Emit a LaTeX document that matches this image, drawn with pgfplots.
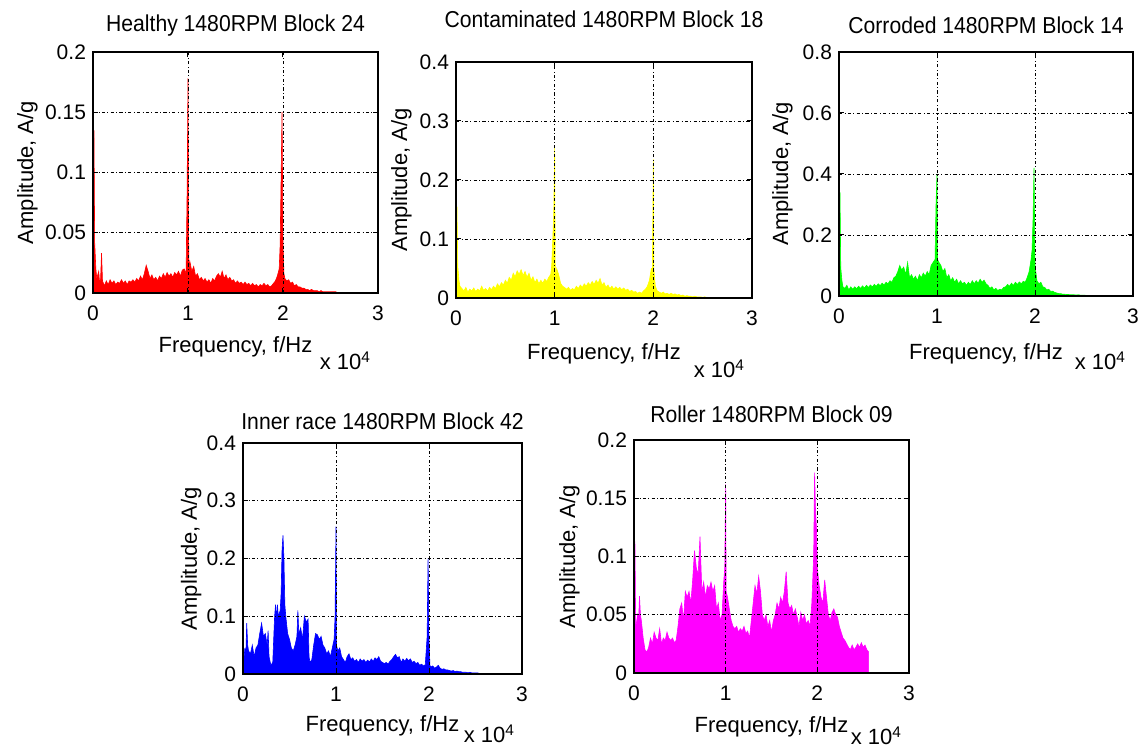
\documentclass[border=0pt]{standalone}
\usepackage{fontspec}
\setmainfont{Liberation Sans}
\newfontfamily\titlefont{Liberation Sans}[FakeStretch=0.92]
\usepackage{pgfplots}
\pgfplotsset{compat=1.18}

\definecolor{mred}{RGB}{255,0,0}
\definecolor{myellow}{RGB}{255,255,0}
\definecolor{mgreen}{RGB}{0,255,0}
\definecolor{mblue}{RGB}{0,0,255}
\definecolor{mmagenta}{RGB}{255,0,255}

\pgfplotsset{
  spec/.style={
    scale only axis, anchor=south west,
    xmin=0, xmax=3, xtick={0,1,2,3}, ymin=0,
    axis on top, grid=major,
    major grid style={black, line width=0.45pt, dash pattern=on 1.6pt off 1.2pt on 0.4pt off 1.2pt},
    axis line style={black, line width=0.6pt},
    tick align=inside, major tick length=2.5pt,
    tick style={black, line width=0.5pt},
    /pgf/number format/assume math mode=true,
    tick label style={font=\fontsize{10.5}{12}\selectfont},
    xticklabel style={yshift=-3pt},
    label style={font=\fontsize{11}{13}\selectfont},
    title style={font=\titlefont\fontsize{11.5}{13}\selectfont, at={(0.5,1)}, anchor=base},
    xlabel={Frequency, f/Hz},
    ylabel={Amplitude, A/g},
    xlabel style={at={(axis description cs:0.5,0)}, anchor=base},
    ylabel style={anchor=base},
  },
  xpow/.style={extra description/.code={
    \node[anchor=base east, font=\fontsize{11}{13}\selectfont, yshift=-#1] at (1,0) {x 10\textsuperscript{4}};}},
}

\begin{document}
\begin{tikzpicture}
\useasboundingbox (0,0) rectangle (570.5pt,374.5pt);

% Healthy
\begin{axis}[spec, at={(46.5pt,228pt)}, width=142.5pt, height=120.5pt,
  ymax=0.2, ytick={0,0.05,0.1,0.15,0.2}, yticklabels={0,0.05,0.1,0.15,0.2},
  title={Healthy 1480RPM Block 24}, title style={yshift=4pt},
  xlabel style={yshift=-30pt},
  ylabel style={at={(axis description cs:-0.21,0.5)}},
  xpow=38.5pt]
\addplot[draw=mred, fill=mred, line width=0.3pt] coordinates {
(0,0)(0,0.04)(0.01,0.135)(0.018,0.04)(0.02,0.038)(0.03,0.02)(0.04,0.012)(0.06,0.018)(0.07,0.008)(0.08,0.012)(0.09,0.033)(0.1,0.01)
(0.12,0.006)(0.14,0.01)(0.16,0.007)(0.18,0.011)(0.2,0.008)(0.22,0.01)(0.24,0.007)(0.26,0.009)(0.28,0.008)(0.30,0.011)
(0.32,0.008)(0.34,0.01)(0.36,0.007)(0.38,0.01)(0.40,0.009)(0.42,0.011)(0.44,0.009)(0.46,0.012)(0.48,0.01)(0.50,0.014)
(0.52,0.011)(0.54,0.016)(0.56,0.023)(0.58,0.018)(0.60,0.012)(0.62,0.015)(0.64,0.011)(0.66,0.013)(0.68,0.01)(0.70,0.014)
(0.72,0.012)(0.74,0.016)(0.76,0.013)(0.78,0.017)(0.80,0.014)(0.82,0.016)(0.84,0.013)(0.86,0.017)(0.88,0.015)(0.90,0.018)
(0.92,0.014)(0.94,0.019)(0.96,0.02)(0.98,0.016)(0.99,0.08)(1.0,0.178)(1.005,0.06)(1.01,0.02)(1.02,0.026)(1.04,0.018)
(1.06,0.022)(1.08,0.014)(1.10,0.016)(1.12,0.011)(1.14,0.013)(1.16,0.01)(1.18,0.012)(1.20,0.009)(1.22,0.011)(1.24,0.008)
(1.26,0.012)(1.28,0.01)(1.30,0.014)(1.32,0.016)(1.34,0.013)(1.36,0.018)(1.38,0.012)(1.40,0.015)(1.42,0.011)(1.44,0.013)
(1.46,0.01)(1.48,0.011)(1.50,0.008)(1.52,0.01)(1.54,0.008)(1.56,0.009)(1.58,0.007)(1.60,0.009)(1.62,0.007)(1.64,0.008)
(1.66,0.006)(1.68,0.008)(1.70,0.006)(1.72,0.007)(1.74,0.005)(1.76,0.007)(1.78,0.006)(1.80,0.008)(1.82,0.006)(1.84,0.007)
(1.86,0.005)(1.88,0.006)(1.90,0.008)(1.92,0.01)(1.94,0.014)(1.96,0.02)(1.97,0.04)(1.98,0.095)(1.99,0.15)(2.0,0.04)
(2.01,0.016)(2.02,0.012)(2.04,0.01)(2.06,0.011)(2.08,0.008)(2.10,0.009)(2.12,0.006)(2.14,0.007)(2.16,0.005)(2.18,0.005)
(2.20,0.004)(2.22,0.004)(2.24,0.003)(2.26,0.003)(2.28,0.002)(2.30,0.003)(2.32,0.002)(2.34,0.002)(2.36,0.002)(2.38,0.001)
(2.40,0.002)(2.42,0.001)(2.44,0.001)(2.46,0.001)(2.48,0.001)(2.50,0.001)(2.52,0.001)(2.54,0.001)(2.56,0.001)(2.56,0)
} \closedcycle;
\end{axis}

% Contaminated
\begin{axis}[spec, at={(228pt,225.5pt)}, width=148pt, height=118pt,
  ymax=0.4, ytick={0,0.1,0.2,0.3,0.4}, yticklabels={0,0.1,0.2,0.3,0.4},
  title={Contaminated 1480RPM Block 18}, title style={yshift=11pt},
  xlabel style={yshift=-31pt},
  ylabel style={at={(axis description cs:-0.1655,0.5)}},
  xpow=40pt]
\addplot[draw=myellow, fill=myellow, line width=0.3pt] coordinates {
(0,0)(0,0.055)(0.01,0.155)(0.018,0.055)(0.02,0.05)(0.03,0.03)(0.04,0.02)(0.06,0.016)(0.08,0.012)(0.10,0.018)(0.12,0.01)(0.14,0.015)
(0.16,0.012)(0.18,0.017)(0.20,0.011)(0.22,0.015)(0.24,0.012)(0.26,0.02)(0.28,0.013)(0.30,0.016)(0.32,0.012)(0.34,0.018)
(0.36,0.014)(0.38,0.02)(0.40,0.016)(0.42,0.024)(0.44,0.019)(0.46,0.026)(0.48,0.022)(0.50,0.03)(0.52,0.025)(0.54,0.035)
(0.56,0.03)(0.58,0.042)(0.60,0.036)(0.62,0.046)(0.64,0.04)(0.66,0.048)(0.68,0.038)(0.70,0.045)(0.72,0.035)(0.74,0.042)
(0.76,0.03)(0.78,0.036)(0.80,0.026)(0.82,0.032)(0.84,0.024)(0.86,0.03)(0.88,0.025)(0.90,0.032)(0.92,0.028)(0.94,0.035)
(0.96,0.04)(0.97,0.055)(0.99,0.14)(1.0,0.255)(1.005,0.06)(1.01,0.03)(1.02,0.05)(1.04,0.04)(1.06,0.025)(1.08,0.02)
(1.10,0.018)(1.12,0.015)(1.14,0.018)(1.16,0.013)(1.18,0.016)(1.20,0.014)(1.22,0.02)(1.24,0.016)(1.26,0.022)(1.28,0.018)
(1.30,0.024)(1.32,0.02)(1.34,0.026)(1.36,0.022)(1.38,0.028)(1.40,0.023)(1.42,0.03)(1.44,0.025)(1.46,0.033)(1.48,0.022)
(1.50,0.026)(1.52,0.018)(1.54,0.022)(1.56,0.016)(1.58,0.02)(1.60,0.015)(1.62,0.019)(1.64,0.015)(1.66,0.018)(1.68,0.014)
(1.70,0.017)(1.72,0.013)(1.74,0.015)(1.76,0.011)(1.78,0.013)(1.80,0.01)(1.82,0.011)(1.84,0.008)(1.86,0.01)(1.88,0.008)
(1.90,0.012)(1.92,0.015)(1.94,0.02)(1.96,0.03)(1.98,0.05)(1.99,0.05)(2.0,0.235)(2.005,0.05)(2.02,0.02)(2.04,0.012)
(2.06,0.01)(2.08,0.008)(2.10,0.01)(2.12,0.007)(2.14,0.008)(2.16,0.006)(2.18,0.008)(2.20,0.006)(2.22,0.007)(2.24,0.005)
(2.26,0.006)(2.28,0.004)(2.30,0.005)(2.32,0.003)(2.34,0.004)(2.36,0.003)(2.38,0.003)(2.40,0.002)(2.42,0.003)(2.44,0.002)
(2.46,0.002)(2.48,0.002)(2.50,0.001)(2.52,0.002)(2.54,0.001)(2.56,0.001)(2.56,0)
} \closedcycle;
\end{axis}

% Corroded
\begin{axis}[spec, at={(419.5pt,226.5pt)}, width=147pt, height=122pt,
  ymax=0.8, ytick={0,0.2,0.4,0.6,0.8}, yticklabels={0,0.2,0.4,0.6,0.8},
  title={Corroded 1480RPM Block 14}, title style={yshift=3pt},
  xlabel style={yshift=-32pt},
  ylabel style={at={(axis description cs:-0.173,0.5)}},
  xpow=37pt]
\addplot[draw=mgreen, fill=mgreen, line width=0.3pt] coordinates {
(0,0)(0,0.09)(0.01,0.34)(0.018,0.09)(0.02,0.085)(0.03,0.05)(0.04,0.03)(0.06,0.025)(0.08,0.035)(0.10,0.02)(0.12,0.03)(0.14,0.022)
(0.16,0.03)(0.18,0.024)(0.20,0.032)(0.22,0.025)(0.24,0.033)(0.26,0.026)(0.28,0.035)(0.30,0.028)(0.32,0.036)(0.34,0.03)
(0.36,0.038)(0.38,0.032)(0.40,0.04)(0.42,0.034)(0.44,0.042)(0.46,0.036)(0.48,0.045)(0.50,0.04)(0.52,0.05)(0.54,0.045)
(0.56,0.06)(0.58,0.065)(0.60,0.08)(0.62,0.1)(0.64,0.085)(0.66,0.095)(0.68,0.07)(0.70,0.11)(0.72,0.06)(0.74,0.07)
(0.76,0.055)(0.78,0.065)(0.80,0.05)(0.82,0.07)(0.84,0.06)(0.86,0.075)(0.88,0.065)(0.90,0.08)(0.92,0.07)(0.94,0.1)
(0.96,0.11)(0.98,0.12)(0.99,0.3)(1.0,0.4)(1.005,0.12)(1.02,0.11)(1.04,0.1)(1.06,0.08)(1.08,0.09)(1.10,0.06)
(1.12,0.07)(1.14,0.05)(1.16,0.06)(1.18,0.045)(1.20,0.055)(1.22,0.04)(1.24,0.05)(1.26,0.04)(1.28,0.045)(1.30,0.035)
(1.32,0.045)(1.34,0.038)(1.36,0.05)(1.38,0.04)(1.40,0.05)(1.42,0.042)(1.44,0.055)(1.46,0.045)(1.48,0.052)(1.50,0.04)
(1.52,0.035)(1.54,0.025)(1.56,0.03)(1.58,0.02)(1.60,0.025)(1.62,0.018)(1.64,0.022)(1.66,0.02)(1.68,0.028)(1.70,0.03)
(1.72,0.038)(1.74,0.032)(1.76,0.042)(1.78,0.035)(1.80,0.045)(1.82,0.038)(1.84,0.046)(1.86,0.04)(1.88,0.048)(1.90,0.045)
(1.92,0.06)(1.94,0.08)(1.96,0.12)(1.97,0.15)(1.98,0.25)(1.99,0.42)(2.0,0.1)(2.02,0.05)(2.04,0.04)(2.06,0.045)
(2.08,0.03)(2.10,0.028)(2.12,0.02)(2.14,0.022)(2.16,0.015)(2.18,0.016)(2.20,0.012)(2.22,0.01)(2.24,0.008)(2.26,0.008)
(2.28,0.006)(2.30,0.006)(2.32,0.005)(2.34,0.005)(2.36,0.004)(2.38,0.004)(2.40,0.004)(2.42,0.003)(2.44,0.004)(2.46,0.003)
(2.48,0.003)(2.50,0.003)(2.52,0.002)(2.54,0.002)(2.56,0.002)(2.56,0)
} \closedcycle;
\end{axis}

% Inner race
\begin{axis}[spec, at={(121.5pt,37.5pt)}, width=139.5pt, height=115.5pt,
  ymax=0.4, ytick={0,0.1,0.2,0.3,0.4}, yticklabels={0,0.1,0.2,0.3,0.4},
  title={Inner race 1480RPM Block 42}, title style={yshift=0.5pt},
  xlabel style={yshift=-29pt},
  ylabel style={at={(axis description cs:-0.165,0.5)}},
  xpow=34.5pt]
\addplot[draw=mblue, fill=mblue, line width=0.3pt] coordinates {
(0,0)(0,0.03)(0.01,0.025)(0.02,0.045)(0.03,0.03)(0.04,0.088)(0.05,0.05)(0.06,0.04)(0.08,0.035)(0.10,0.05)(0.12,0.03)
(0.14,0.045)(0.16,0.05)(0.18,0.07)(0.20,0.088)(0.22,0.065)(0.24,0.07)(0.26,0.05)(0.27,0.075)(0.28,0.03)(0.30,0.015)
(0.32,0.02)(0.33,0.06)(0.34,0.1)(0.35,0.12)(0.36,0.095)(0.37,0.12)(0.38,0.1)(0.40,0.11)(0.41,0.14)(0.42,0.215)
(0.43,0.24)(0.44,0.2)(0.45,0.12)(0.46,0.1)(0.48,0.07)(0.50,0.06)(0.52,0.045)(0.54,0.04)(0.56,0.05)(0.58,0.065)
(0.59,0.11)(0.60,0.07)(0.62,0.08)(0.64,0.06)(0.66,0.1)(0.68,0.09)(0.70,0.095)(0.71,0.03)(0.72,0.02)(0.74,0.025)
(0.76,0.05)(0.78,0.07)(0.80,0.068)(0.82,0.06)(0.84,0.065)(0.86,0.05)(0.88,0.045)(0.90,0.035)(0.92,0.04)(0.94,0.03)
(0.96,0.045)(0.98,0.06)(0.99,0.1)(1.0,0.255)(1.005,0.05)(1.02,0.04)(1.04,0.045)(1.06,0.03)(1.08,0.025)(1.10,0.02)
(1.12,0.03)(1.14,0.035)(1.16,0.025)(1.18,0.028)(1.20,0.022)(1.22,0.025)(1.24,0.02)(1.26,0.026)(1.28,0.022)(1.30,0.025)
(1.32,0.02)(1.34,0.024)(1.36,0.021)(1.38,0.026)(1.40,0.022)(1.42,0.028)(1.44,0.025)(1.46,0.03)(1.48,0.022)(1.50,0.02)
(1.52,0.018)(1.54,0.02)(1.56,0.017)(1.58,0.022)(1.60,0.025)(1.62,0.03)(1.64,0.034)(1.66,0.028)(1.68,0.03)(1.70,0.02)
(1.72,0.026)(1.74,0.022)(1.76,0.027)(1.78,0.023)(1.80,0.026)(1.82,0.02)(1.84,0.022)(1.86,0.018)(1.88,0.02)(1.90,0.015)
(1.92,0.017)(1.94,0.014)(1.96,0.016)(1.98,0.065)(1.99,0.2)(2.0,0.06)(2.01,0.015)(2.02,0.012)(2.04,0.014)(2.06,0.01)
(2.08,0.012)(2.10,0.015)(2.12,0.01)(2.14,0.008)(2.16,0.009)(2.18,0.007)(2.20,0.007)(2.22,0.006)(2.24,0.005)(2.26,0.006)
(2.28,0.004)(2.30,0.005)(2.32,0.004)(2.34,0.004)(2.36,0.003)(2.38,0.003)(2.40,0.003)(2.42,0.002)(2.44,0.003)(2.46,0.002)
(2.48,0.002)(2.50,0.002)(2.52,0.002)(2.54,0.001)(2.56,0.001)(2.56,0)
} \closedcycle;
\end{axis}

% Roller
\begin{axis}[spec, at={(317pt,38pt)}, width=137.5pt, height=116.5pt,
  ymax=0.2, ytick={0,0.05,0.1,0.15,0.2}, yticklabels={0,0.05,0.1,0.15,0.2},
  title={Roller 1480RPM Block 09}, title style={yshift=2.5pt},
  xlabel style={yshift=-30pt},
  ylabel style={at={(axis description cs:-0.2145,0.5)}},
  xpow=36pt]
\addplot[draw=mmagenta, fill=mmagenta, line width=0.3pt] coordinates {
(0,0)(0,0.045)(0.01,0.113)(0.018,0.045)(0.02,0.04)(0.04,0.05)(0.05,0.045)(0.06,0.066)(0.07,0.05)(0.08,0.045)(0.10,0.03)(0.12,0.02)
(0.14,0.018)(0.16,0.022)(0.18,0.03)(0.20,0.025)(0.22,0.035)(0.24,0.03)(0.26,0.028)(0.28,0.038)(0.30,0.025)(0.32,0.03)
(0.34,0.028)(0.36,0.035)(0.38,0.03)(0.40,0.028)(0.42,0.03)(0.44,0.026)(0.46,0.028)(0.48,0.04)(0.50,0.055)(0.52,0.06)
(0.54,0.045)(0.56,0.07)(0.58,0.065)(0.60,0.07)(0.62,0.06)(0.64,0.08)(0.66,0.105)(0.68,0.09)(0.70,0.085)(0.72,0.117)
(0.74,0.07)(0.76,0.078)(0.78,0.065)(0.80,0.075)(0.82,0.072)(0.84,0.078)(0.86,0.07)(0.88,0.075)(0.90,0.055)(0.92,0.06)
(0.94,0.045)(0.96,0.05)(0.98,0.08)(0.99,0.09)(1.0,0.162)(1.005,0.07)(1.02,0.065)(1.04,0.055)(1.06,0.045)(1.08,0.04)
(1.10,0.038)(1.12,0.04)(1.14,0.035)(1.16,0.038)(1.18,0.036)(1.20,0.04)(1.22,0.034)(1.24,0.036)(1.26,0.03)(1.28,0.045)
(1.30,0.06)(1.32,0.075)(1.34,0.068)(1.36,0.083)(1.38,0.07)(1.40,0.05)(1.42,0.045)(1.44,0.05)(1.46,0.04)(1.48,0.045)
(1.50,0.035)(1.52,0.045)(1.54,0.05)(1.56,0.06)(1.58,0.055)(1.60,0.065)(1.62,0.06)(1.64,0.07)(1.66,0.087)(1.68,0.06)
(1.70,0.055)(1.72,0.058)(1.74,0.05)(1.76,0.055)(1.78,0.048)(1.80,0.04)(1.82,0.052)(1.84,0.045)(1.86,0.05)(1.88,0.042)
(1.90,0.045)(1.92,0.04)(1.94,0.06)(1.96,0.1)(1.97,0.172)(1.98,0.14)(1.99,0.125)(2.0,0.09)(2.02,0.075)(2.04,0.065)
(2.06,0.06)(2.08,0.08)(2.10,0.065)(2.12,0.05)(2.14,0.045)(2.16,0.052)(2.18,0.055)(2.20,0.05)(2.22,0.048)(2.24,0.04)
(2.26,0.035)(2.28,0.03)(2.30,0.028)(2.32,0.025)(2.34,0.022)(2.36,0.02)(2.38,0.024)(2.40,0.02)(2.42,0.022)(2.44,0.025)
(2.46,0.022)(2.48,0.026)(2.50,0.022)(2.52,0.024)(2.54,0.02)(2.56,0.018)(2.56,0)
} \closedcycle;
\end{axis}
\end{tikzpicture}
\end{document}
